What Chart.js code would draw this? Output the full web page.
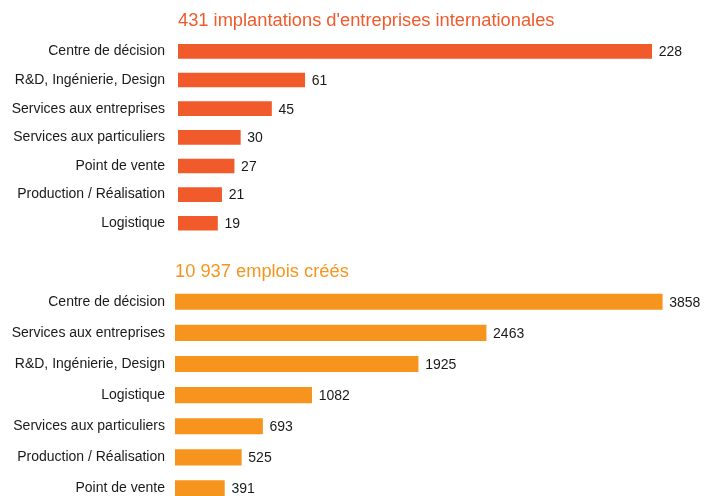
<!DOCTYPE html>
<html>
<head>
<meta charset="utf-8">
<script src="https://cdn.jsdelivr.net/npm/chart.js@4.4.0/dist/chart.umd.min.js"></script>
<style>
  html, body { margin: 0; padding: 0; background: #fff; overflow: hidden; }
  #wrap { position: relative; width: 704px; height: 496px; overflow: hidden; }
  canvas { position: absolute; left: 0; display: block; }
</style>
</head>
<body>
<div id="wrap">
  <canvas id="implant" width="704" height="248" style="top:0;width:704px;height:248px"></canvas>
  <canvas id="emplois" width="704" height="280" style="top:248px;width:704px;height:280px"></canvas>
</div>
<script>
// implantations par fonction
const implantTitle = "431 implantations d'entreprises internationales"
const implantLabels = ['Centre de décision', 'R&D, Ingénierie, Design', 'Services aux entreprises',
  'Services aux particuliers', 'Point de vente', 'Production / Réalisation', 'Logistique']
const implantValues = [228, 61, 45, 30, 27, 21, 19]

// emplois créés par fonction
const emploisTitle = '10 937 emplois créés'
const emploisLabels = ['Centre de décision', 'Services aux entreprises', 'R&D, Ingénierie, Design',
  'Logistique', 'Services aux particuliers', 'Production / Réalisation', 'Point de vente']
const emploisValues = [3858, 2463, 1925, 1082, 693, 525, 391]

const FONT = '"Liberation Sans", Arial, Helvetica, sans-serif'

// title + value labels drawn next to the bars
const decoPlugin = {
  id: 'deco',
  afterDatasetsDraw(chart, args, opts) {
    const ctx = chart.ctx
    ctx.save()
    ctx.font = '18.3px ' + FONT
    ctx.fillStyle = opts.titleColor
    ctx.textAlign = 'left'
    ctx.textBaseline = 'alphabetic'
    ctx.fillText(opts.title, chart.chartArea.left, opts.titleY)

    ctx.font = '14px ' + FONT
    ctx.fillStyle = '#1a1a1a'
    ctx.textBaseline = 'middle'
    const meta = chart.getDatasetMeta(0)
    meta.data.forEach((bar, i) => {
      ctx.fillText(String(chart.data.datasets[0].data[i]), bar.x + 7, bar.y + 1)
    })
    ctx.restore()
  }
}

function makeChart(el, labels, values, color, o) {
  return new Chart(document.getElementById(el), {
    type: 'bar',
    data: {
      labels: labels,
      datasets: [{
        data: values,
        backgroundColor: color,
        barThickness: o.thick,
        borderWidth: 0
      }]
    },
    options: {
      indexAxis: 'y',
      responsive: false,
      maintainAspectRatio: false,
      devicePixelRatio: 1,
      animation: false,
      layout: { padding: { top: o.top, bottom: o.bottom, left: 0, right: o.right } },
      scales: {
        x: { display: false, min: 0, max: o.max },
        y: {
          grid: { display: false, drawTicks: false },
          border: { display: false },
          ticks: { color: '#1a1a1a', padding: o.pad, autoSkip: false, font: { family: FONT, size: 14 } },
          afterFit: (s) => {
            s.width = o.axisW
            // no extra room for the first / last label, layout padding decides
            s.paddingTop = 0
            s.paddingBottom = 0
          }
        }
      },
      plugins: {
        legend: { display: false },
        tooltip: { enabled: false },
        deco: { title: o.title, titleColor: o.titleColor, titleY: o.titleY }
      }
    },
    plugins: [decoPlugin]
  })
}

makeChart('implant', implantLabels, implantValues, '#F15A2B', {
  thick: 14, top: 37, bottom: 10.4, right: 6.6, max: 250, pad: 13, axisW: 178,
  title: implantTitle, titleColor: '#F15A2B', titleY: 25.7
})

makeChart('emplois', emploisLabels, emploisValues, '#F7941E', {
  thick: 15.5, top: 38.2, bottom: 24, right: 23.8, max: 4000, pad: 10, axisW: 175,
  title: emploisTitle, titleColor: '#F7941E', titleY: 29.3
})
</script>
</body>
</html>
